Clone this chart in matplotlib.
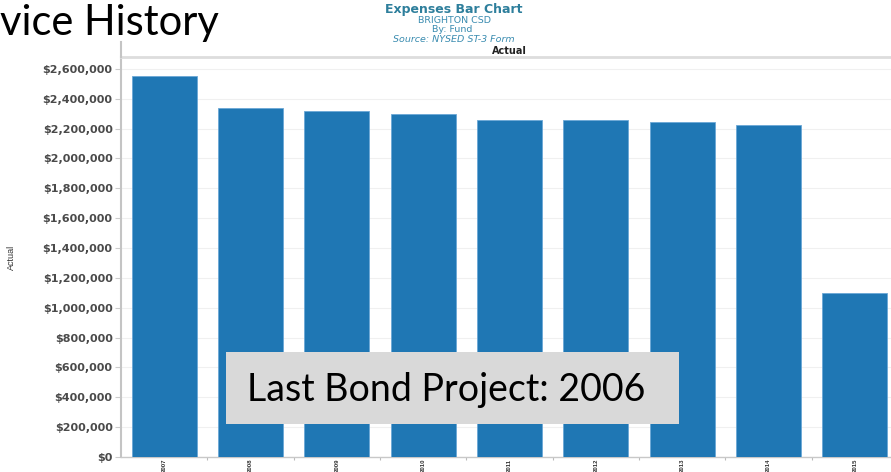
import matplotlib
matplotlib.use("Agg")
import matplotlib.pyplot as plt
from matplotlib.patches import Rectangle
from matplotlib.lines import Line2D
from matplotlib.ticker import FuncFormatter, FixedLocator

years = ["2007", "2008", "2009", "2010", "2011", "2012", "2013", "2014", "2015"]
actual = [2552000, 2338000, 2318000, 2298000, 2258000, 2256000, 2245000, 2224000, 1099000]
yticks = list(range(0, 2600001, 200000))

W, H = 891, 472
fig = plt.figure(figsize=(W / 100, H / 100), dpi=100)
fig.patch.set_facecolor("white")

def fx(px):
    return px / W

def fy(py):
    return 1 - py / H

narrow = ["Liberation Sans", "DejaVu Sans"]

ax_left, ax_right, ax_top, ax_bot = 121, 898, 57, 457
ax = fig.add_axes([fx(ax_left), fy(ax_bot), fx(ax_right - ax_left), (ax_bot - ax_top) / H])

x = list(range(len(years)))
ax.bar(x, actual, width=0.75, color="#1F77B4", edgecolor="#6BA7D6", linewidth=0.6, zorder=3)
ax.set_xlim(-0.5, len(years) - 0.5)
ax.set_ylim(0, 2680000)

ax.set_yticks(yticks)
ax.yaxis.set_major_formatter(FuncFormatter(lambda v, p: "${:,.0f}".format(v)))
ax.grid(axis="y", color="#F0F0F0", linewidth=0.8, zorder=0)
ax.set_axisbelow(True)

ax.set_xticks(x)
ax.set_xticklabels(years, rotation=90, fontsize=4.3, color="#333333", va="top",
                   family=narrow, fontweight="bold")
ax.xaxis.set_minor_locator(FixedLocator([i + 0.5 for i in range(len(years) - 1)]))
ax.tick_params(axis="x", which="major", length=0, pad=1)
ax.tick_params(axis="x", which="minor", length=2.5, color="#BBBBBB", width=0.8)
ax.tick_params(axis="y", which="major", length=4, color="#CCCCCC", width=0.8, pad=2,
               labelsize=8, labelcolor="#4A4A4A")
for lbl in ax.get_yticklabels():
    lbl.set_fontweight("bold")

ax.spines["right"].set_visible(False)
ax.spines["left"].set_color("#C4C4C4")
ax.spines["left"].set_linewidth(1.5)
ax.spines["bottom"].set_color("#C8C8C8")
ax.spines["bottom"].set_linewidth(1.0)
ax.spines["top"].set_color("#DDDDDD")
ax.spines["top"].set_linewidth(2.0)

ax.set_ylabel("Actual", fontsize=6.5, color="#333333", labelpad=0, family=narrow)
ax.yaxis.set_label_coords(fx(16 - ax_left) / fx(ax_right - ax_left), 0.5)

# header cell left border
fig.add_artist(Line2D([fx(ax_left), fx(ax_left)], [fy(42), fy(57)], color="#C4C4C4", lw=1.5))
fig.text(fx(509), fy(51), "Actual", ha="center", va="center", fontsize=7,
         fontweight="bold", color="#222222")

# Titles
fig.text(fx(454), fy(9.5), "Expenses Bar Chart", ha="center", va="center", fontsize=9,
         fontweight="bold", color="#2E7F9C")
fig.text(fx(454), fy(20.5), "BRIGHTON CSD", ha="center", va="center", fontsize=6.8,
         color="#3A8CB0")
fig.text(fx(452), fy(30), "By: Fund", ha="center", va="center", fontsize=6.8,
         color="#3A8CB0")
fig.text(fx(454), fy(39.5), "Source: NYSED ST-3 Form", ha="center", va="center", fontsize=6.8,
         style="italic", color="#3A8CB0")

# Slide title fragment
fig.text(fx(0.5), fy(35), "vice History", ha="left", va="baseline", fontsize=30,
         family=["Lato", "DejaVu Sans"], color="black")

# Annotation box
fig.add_artist(Rectangle((fx(226), fy(424)), fx(679 - 226), (424 - 352) / H,
                         facecolor="#D9D9D9", edgecolor="none", zorder=10))
fig.text(fx(247), fy(401), "Last Bond Project: 2006", ha="left", va="baseline",
         fontsize=27, family=["Lato", "DejaVu Sans"], color="black", zorder=11)

fig.savefig("out.png", dpi=100)
